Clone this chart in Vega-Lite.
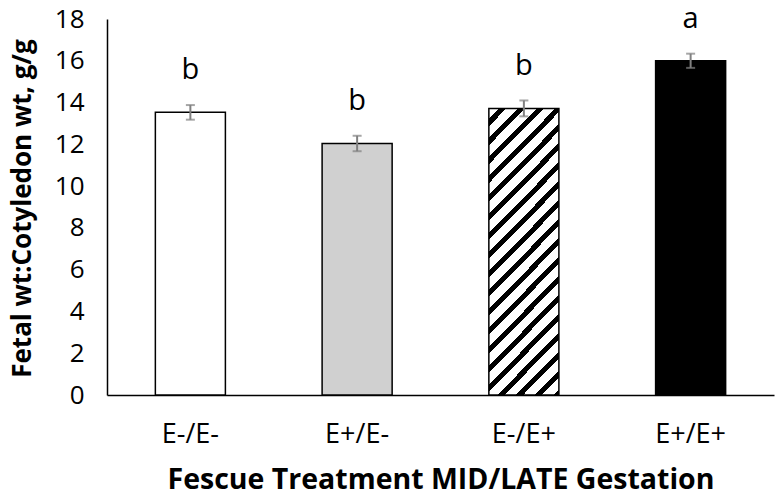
{
  "$schema": "https://vega.github.io/schema/vega-lite/v6.json",
  "width": 667,
  "height": 376,
  "autosize": "none",
  "padding": {"left": 107, "top": 19, "right": 2, "bottom": 107},
  "background": "white",
  "config": {"view": {"stroke": null}, "font": "Open Sans"},
  "data": {
    "values": [
      {"treatment": "E-/E-", "mean": 13.53, "sem": 0.35, "letter": "b"},
      {"treatment": "E+/E-", "mean": 12.04, "sem": 0.37, "letter": "b"},
      {"treatment": "E-/E+", "mean": 13.72, "sem": 0.38, "letter": "b"},
      {"treatment": "E+/E+", "mean": 16.0, "sem": 0.34, "letter": "a"}
    ]
  },
  "encoding": {
    "x": {
      "field": "treatment",
      "type": "nominal",
      "sort": null,
      "scale": {"paddingInner": 0.58, "paddingOuter": 0.29},
      "axis": {
        "title": "Fescue Treatment MID/LATE Gestation",
        "titleFont": "Open Sans",
        "titleFontSize": 28.5,
        "titleFontWeight": "bold",
        "titleColor": "black",
        "titleBaseline": "middle",
        "titleY": 84,
        "labelAngle": 0,
        "labelFontSize": 27,
        "labelColor": "black",
        "labelPadding": 26,
        "ticks": false,
        "domainColor": "black",
        "domainWidth": 1.5,
        "grid": false
      }
    }
  },
  "layer": [
    {
      "mark": {"type": "bar", "stroke": "black", "strokeWidth": 1.5},
      "encoding": {
        "y": {
          "field": "mean",
          "type": "quantitative",
          "title": "Fetal wt:Cotyledon wt, g/g",
          "scale": {"domain": [0, 18]},
          "axis": {
            "titleFontSize": 26,
            "titleFontWeight": "bold",
            "titleColor": "black",
            "titleAngle": -90,
            "titleAlign": "center",
            "titleBaseline": "middle",
            "titleX": -85,
            "titleY": 189,
            "values": [0, 2, 4, 6, 8, 10, 12, 14, 16, 18],
            "labelFontSize": 26,
            "labelColor": "black",
            "labelPadding": 23,
            "ticks": false,
            "grid": false,
            "domainColor": "black",
            "domainWidth": 1.5
          }
        },
        "fill": {
          "condition": [
            {"test": "datum.treatment === 'E-/E-'", "value": "white"},
            {"test": "datum.treatment === 'E+/E-'", "value": "#d0d0d0"},
            {
              "test": "datum.treatment === 'E-/E+'",
              "value": {
                "gradient": "linear",
                "x1": 0, "y1": 0, "x2": 0.292, "y2": 1.176,
                "stops": [
                  {"offset": 0.000, "color": "white"}, {"offset": 0.030, "color": "white"}, {"offset": 0.030, "color": "black"}, {"offset": 0.050, "color": "black"}, {"offset": 0.050, "color": "white"},
                  {"offset": 0.083, "color": "white"}, {"offset": 0.083, "color": "black"}, {"offset": 0.103, "color": "black"}, {"offset": 0.103, "color": "white"},
                  {"offset": 0.136, "color": "white"}, {"offset": 0.136, "color": "black"}, {"offset": 0.156, "color": "black"}, {"offset": 0.156, "color": "white"},
                  {"offset": 0.189, "color": "white"}, {"offset": 0.189, "color": "black"}, {"offset": 0.209, "color": "black"}, {"offset": 0.209, "color": "white"},
                  {"offset": 0.242, "color": "white"}, {"offset": 0.242, "color": "black"}, {"offset": 0.262, "color": "black"}, {"offset": 0.262, "color": "white"},
                  {"offset": 0.295, "color": "white"}, {"offset": 0.295, "color": "black"}, {"offset": 0.315, "color": "black"}, {"offset": 0.315, "color": "white"},
                  {"offset": 0.348, "color": "white"}, {"offset": 0.348, "color": "black"}, {"offset": 0.368, "color": "black"}, {"offset": 0.368, "color": "white"},
                  {"offset": 0.401, "color": "white"}, {"offset": 0.401, "color": "black"}, {"offset": 0.421, "color": "black"}, {"offset": 0.421, "color": "white"},
                  {"offset": 0.454, "color": "white"}, {"offset": 0.454, "color": "black"}, {"offset": 0.474, "color": "black"}, {"offset": 0.474, "color": "white"},
                  {"offset": 0.507, "color": "white"}, {"offset": 0.507, "color": "black"}, {"offset": 0.527, "color": "black"}, {"offset": 0.527, "color": "white"},
                  {"offset": 0.560, "color": "white"}, {"offset": 0.560, "color": "black"}, {"offset": 0.580, "color": "black"}, {"offset": 0.580, "color": "white"},
                  {"offset": 0.613, "color": "white"}, {"offset": 0.613, "color": "black"}, {"offset": 0.633, "color": "black"}, {"offset": 0.633, "color": "white"},
                  {"offset": 0.666, "color": "white"}, {"offset": 0.666, "color": "black"}, {"offset": 0.686, "color": "black"}, {"offset": 0.686, "color": "white"},
                  {"offset": 0.719, "color": "white"}, {"offset": 0.719, "color": "black"}, {"offset": 0.739, "color": "black"}, {"offset": 0.739, "color": "white"},
                  {"offset": 0.772, "color": "white"}, {"offset": 0.772, "color": "black"}, {"offset": 0.792, "color": "black"}, {"offset": 0.792, "color": "white"},
                  {"offset": 0.825, "color": "white"}, {"offset": 0.825, "color": "black"}, {"offset": 0.845, "color": "black"}, {"offset": 0.845, "color": "white"},
                  {"offset": 0.878, "color": "white"}, {"offset": 0.878, "color": "black"}, {"offset": 0.898, "color": "black"}, {"offset": 0.898, "color": "white"},
                  {"offset": 0.931, "color": "white"}, {"offset": 0.931, "color": "black"}, {"offset": 0.951, "color": "black"}, {"offset": 0.951, "color": "white"},
                  {"offset": 0.984, "color": "white"}, {"offset": 0.984, "color": "black"}, {"offset": 1.000, "color": "black"}
                ]
              }
            }
          ],
          "value": "black"
        }
      }
    },
    {
      "mark": {
        "type": "errorbar",
        "color": "#808080",
        "thickness": 2,
        "ticks": {"size": 9, "color": "#808080", "thickness": 2}
      },
      "encoding": {
        "y": {"field": "mean", "type": "quantitative", "title": "Fetal wt:Cotyledon wt, g/g"},
        "yError": {"field": "sem"}
      }
    },
    {
      "mark": {"type": "text", "dy": -42, "fontSize": 29, "baseline": "middle", "color": "black"},
      "encoding": {
        "y": {"field": "mean", "type": "quantitative", "title": "Fetal wt:Cotyledon wt, g/g"},
        "text": {"field": "letter"}
      }
    }
  ]
}
